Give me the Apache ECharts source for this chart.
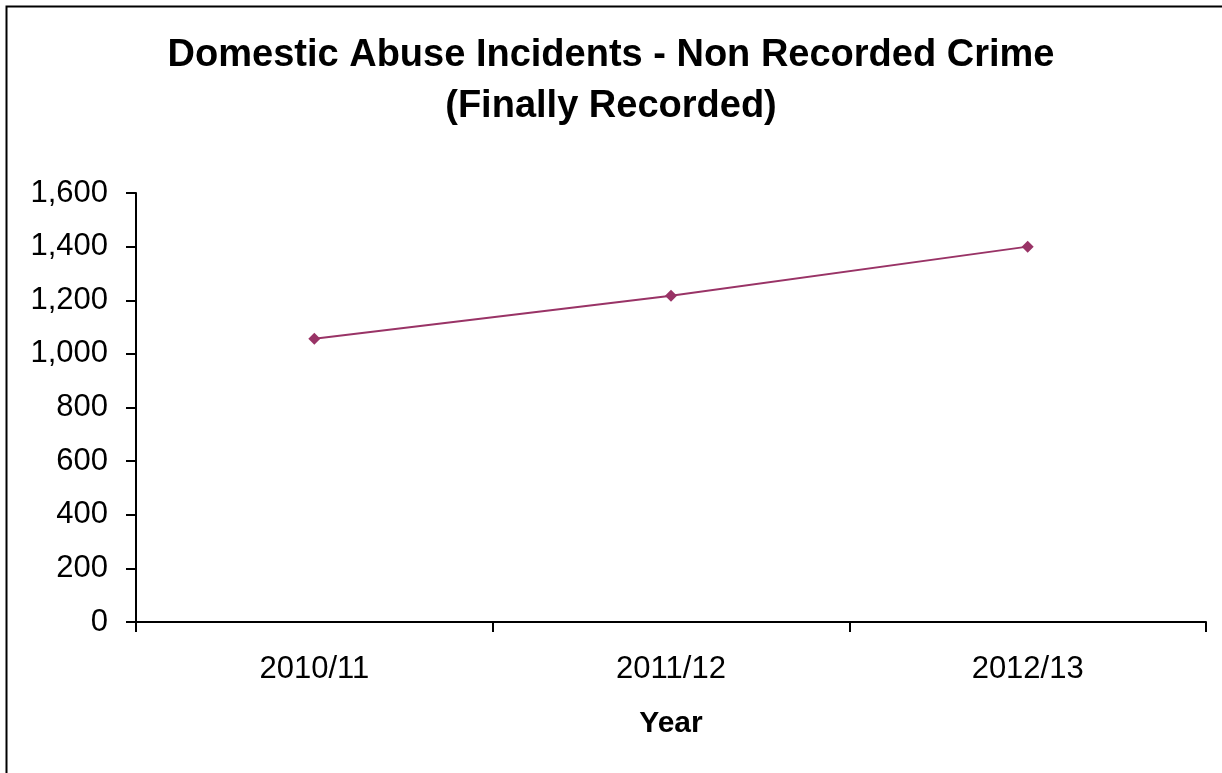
<!DOCTYPE html>
<html>
<head>
<meta charset="utf-8">
<style>
  html, body { margin: 0; padding: 0; background: #fff; }
  #chart { width: 1222px; height: 773px; }
</style>
<script src="https://cdn.jsdelivr.net/npm/echarts@6/dist/echarts.min.js"></script>
</head>
<body>
<div id="chart"></div>
<script>
// Financial years on the category axis
const years = ['2010/11', '2011/12', '2012/13'];
// Domestic abuse incidents finally recorded (non recorded crime)
const incidents = [1056, 1217, 1400];
// Value axis range
const yMin = 0;
const yMax = 1600;
const yStep = 200;

const chart = echarts.init(document.getElementById('chart'), null, { renderer: 'canvas' });
const font = 'Liberation Sans, Arial, sans-serif';

chart.setOption({
  backgroundColor: '#ffffff',
  animation: false,
  graphic: [{
    type: 'rect',
    left: 4, top: 4,
    shape: { x: 0, y: 0, width: 1400, height: 1000 },
    style: { fill: 'none', stroke: '#000', lineWidth: 2 },
    silent: true
  }],
  title: {
    text: 'Domestic Abuse Incidents - Non Recorded Crime\n(Finally Recorded)',
    left: 'center',
    top: 25,
    textStyle: {
      fontFamily: font,
      fontWeight: 'bold',
      fontSize: 38,
      lineHeight: 51,
      color: '#000'
    }
  },
  grid: { left: 136, right: 16, top: 193, bottom: 151 },
  xAxis: {
    type: 'category',
    data: years,
    boundaryGap: true,
    name: 'Year',
    nameLocation: 'middle',
    nameGap: 87,
    nameTextStyle: { fontFamily: font, fontWeight: 'bold', fontSize: 30, color: '#000' },
    axisLine: { lineStyle: { color: '#000', width: 2 } },
    axisTick: { show: true, length: 10, inside: false, lineStyle: { color: '#000', width: 2 } },
    axisLabel: { fontFamily: font, fontSize: 31, color: '#000', margin: 32 },
    splitLine: { show: false }
  },
  yAxis: {
    type: 'value',
    min: yMin,
    max: yMax,
    interval: yStep,
    axisLine: { show: true, lineStyle: { color: '#000', width: 2 } },
    axisTick: { show: true, length: 10, lineStyle: { color: '#000', width: 2 } },
    axisLabel: {
      fontFamily: font, fontSize: 31, color: '#000', margin: 28,
      formatter: v => v.toLocaleString('en-US')
    },
    splitLine: { show: false }
  },
  series: [{
    type: 'line',
    data: incidents,
    symbol: 'diamond',
    symbolSize: 12,
    lineStyle: { color: '#993366', width: 2 },
    itemStyle: { color: '#993366' }
  }]
});
</script>
</body>
</html>
